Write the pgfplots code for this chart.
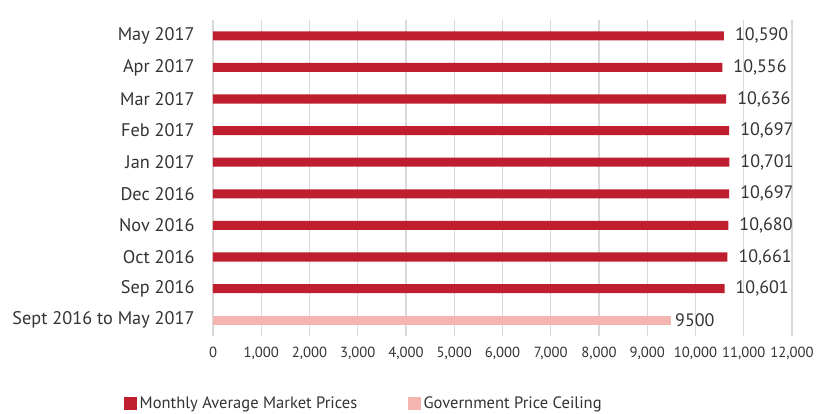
\documentclass[border=0pt]{standalone}
\usepackage{pgfplots}
\pgfplotsset{compat=1.18}
\usepackage{fontspec}
\setmainfont{PT Sans}
\definecolor{barred}{HTML}{BE1E2D}
\definecolor{barpink}{HTML}{F4B4B0}
\definecolor{txt}{HTML}{333333}
\definecolor{gridc}{HTML}{D9D9D9}
\begin{document}
\fontsize{12.5bp}{15bp}\selectfont
\begin{tikzpicture}
\begin{axis}[
  scale only axis,
  width=434.25bp, height=237bp,
  xmin=0, xmax=12000,
  ymin=-0.5, ymax=9.5,
  xtick={0,1000,...,12000},
  ytick={0,...,9},
  yticklabels={Sept 2016 to May 2017,Sep 2016,Oct 2016,Nov 2016,Dec 2016,Jan 2017,Feb 2017,Mar 2017,Apr 2017,May 2017},
  xmajorgrids,
  major grid style={gridc, line width=0.9bp},
  axis line style={draw=none},
  major tick length=0pt,
  tick label style={text=txt},
  y tick label style={anchor=east, xshift=-9.5bp, font=\fontsize{13.7bp}{16bp}\selectfont},
  x tick label style={anchor=north, inner sep=0pt, yshift=-8.4bp, font=\fontsize{11bp}{13bp}\selectfont},
  /pgf/number format/assume math mode=true,
  /pgf/number format/1000 sep={,},
  scaled x ticks=false,
  xbar, bar width=6.8bp, bar shift=0pt,
  clip=false,
  legend columns=2,
  legend style={draw=none, at={(-0.154,-0.215)}, anchor=west, inner sep=0pt,
    font=\fontsize{12.4bp}{15bp}\selectfont, text=txt,
    /tikz/every even column/.append style={column sep=36bp},
    /tikz/every odd column/.append style={column sep=0bp}},
  legend image code/.code={\fill[#1] (0bp,-4.9bp) rectangle (9.75bp,4.9bp);},
]
\addplot[fill=barred, draw=none,
  nodes near coords,
  nodes near coords style={anchor=west, xshift=4bp, text=txt, font=\fontsize{13.5bp}{15bp}\selectfont,
    /pgf/number format/1000 sep={,}, /pgf/number format/assume math mode=true},
] coordinates {
 (10601,1) (10661,2) (10680,3) (10697,4) (10701,5) (10697,6) (10636,7) (10556,8) (10590,9)
};
\addlegendentry{Monthly Average Market Prices}
\addplot[fill=barpink, draw=none,
  nodes near coords,
  nodes near coords style={anchor=west, xshift=-1.5bp, text=txt, font=\fontsize{13.5bp}{15bp}\selectfont,
    /pgf/number format/1000 sep={}, /pgf/number format/assume math mode=true},
] coordinates {
 (9500,0)
};
\addlegendentry{Government Price Ceiling}
\path (rel axis cs:0,0) ++(-159.75bp,-57bp) rectangle ++(612bp,309bp);
\end{axis}
\end{tikzpicture}
\end{document}
